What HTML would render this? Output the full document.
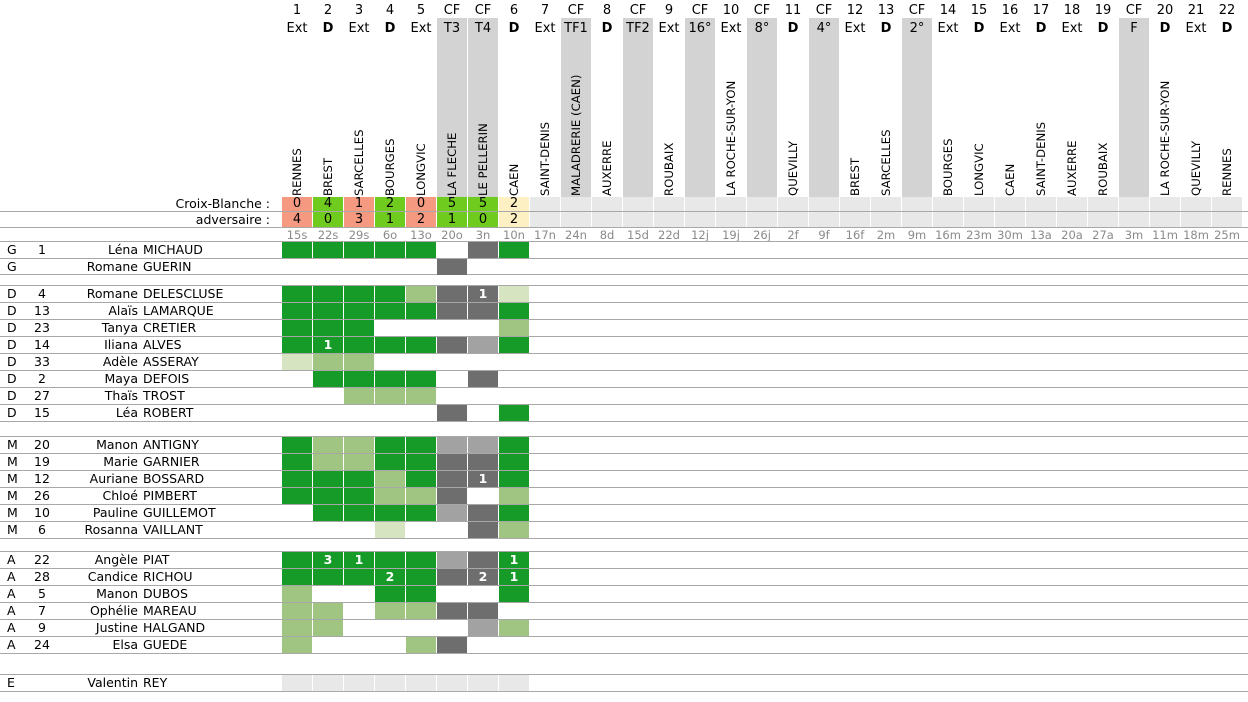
<!DOCTYPE html>
<html><head><meta charset="utf-8">
<style>
body{margin:0;width:1248px;height:702px;background:#fff;position:relative;overflow:hidden;font-family:"DejaVu Sans","Liberation Sans",sans-serif;font-size:11px;color:#000}
div{position:absolute;box-sizing:border-box}
.c{text-align:center}
.ln{left:0;width:1248px;height:1px;background:#a8a8a8}
.v{transform-origin:0 0;transform:rotate(-90deg);white-space:nowrap;font-size:11.7px}
.n{color:#fff;font-weight:bold;text-align:center;font-size:12.5px}
</style></head><body>
<script>
var X=function(i){return 282+31*i};
var nums="1,2,3,4,5,CF,CF,6,7,CF,8,CF,9,CF,10,CF,11,CF,12,13,CF,14,15,16,17,18,19,CF,20,21,22".split(",");
var sec="Ext,D,Ext,D,Ext,T3,T4,D,Ext,TF1,D,TF2,Ext,16°,Ext,8°,D,4°,Ext,D,2°,Ext,D,Ext,D,Ext,D,F,D,Ext,D".split(",");
var ven="RENNES,BREST,SARCELLES,BOURGES,LONGVIC,LA FLECHE,LE PELLERIN,CAEN,SAINT-DENIS,MALADRERIE (CAEN),AUXERRE,,ROUBAIX,,LA ROCHE-SUR-YON,,QUEVILLY,,BREST,SARCELLES,,BOURGES,LONGVIC,CAEN,SAINT-DENIS,AUXERRE,ROUBAIX,,LA ROCHE-SUR-YON,QUEVILLY,RENNES".split(",");
var dates="15s 22s 29s 6o 13o 20o 3n 10n 17n 24n 8d 15d 22d 12j 19j 26j 2f 9f 16f 2m 9m 16m 23m 30m 13a 20a 27a 3m 11m 18m 25m".split(" ");
var h="";
function d(s,st,t){h+='<div class="'+s+'" style="'+st+'">'+(t===undefined?"":String(t))+'</div>';}
for(var i=0;i<31;i++){
 var x=X(i);
 if(nums[i]=="CF")d("","left:"+x+"px;top:18px;width:30px;height:179px;background:#d3d3d3");
 d("c","left:"+x+"px;top:3px;width:30px;font-size:13px",nums[i]);
 d("c","left:"+x+"px;top:21px;width:30px;font-size:13px;"+(sec[i]=="D"?"font-weight:bold":""),sec[i]);
 if(ven[i])d("v","left:"+(x+8)+"px;top:196px",ven[i]);
 d("c","left:"+x+"px;top:228px;width:30px;color:#8a8a8a;font-size:11.5px",dates[i]);
}
var s1=[0,4,1,2,0,5,5,2],s2=[4,0,3,1,2,1,0,2],sc=["#f59a80","#6fcc1f","#f59a80","#6fcc1f","#f59a80","#6fcc1f","#6fcc1f","#fdf0c2"];
for(var i=0;i<31;i++){
 var x=X(i),bg=i<8?sc[i]:"#e8e8e8";
 d(i<8?"c":"","left:"+x+"px;top:197px;width:30px;height:14px;background:"+bg+";font-size:13px;line-height:14px",i<8?s1[i]:"");
 d(i<8?"c":"","left:"+x+"px;top:212px;width:30px;height:15px;background:"+bg+";font-size:13px;line-height:15px",i<8?s2[i]:"");
}
d("","left:0;top:197px;width:270px;text-align:right;font-size:12.5px;line-height:14px","Croix-Blanche :");
d("","left:0;top:212px;width:270px;text-align:right;font-size:12.5px;line-height:15px","adversaire :");
[211,227,241].forEach(function(y){d("ln","top:"+y+"px")});
var C={G:"#169a28",L:"#a0c582",V:"#d7e4c1",D:"#6e6e6e",M:"#a2a2a2",E:"#e8e8e8"};
var rows=[
[241,"G","1","Léna","MICHAUD","GGGGG.DG"],
[258,"G","","Romane","GUERIN",".....D.."],
[285,"D","4","Romane","DELESCLUSE","GGGGLD1V",{6:"D"}],
[302,"D","13","Alaïs","LAMARQUE","GGGGGDDG"],
[319,"D","23","Tanya","CRETIER","GGG....L"],
[336,"D","14","Iliana","ALVES","G1GGGDMG",{1:"G"}],
[353,"D","33","Adèle","ASSERAY","VLL....."],
[370,"D","2","Maya","DEFOIS",".GGGG.D."],
[387,"D","27","Thaïs","TROST","..LLL..."],
[404,"D","15","Léa","ROBERT",".....D.G"],
[436,"M","20","Manon","ANTIGNY","GLLGGMMG"],
[453,"M","19","Marie","GARNIER","GLLGGDDG"],
[470,"M","12","Auriane","BOSSARD","GGGLGD1G",{6:"D"}],
[487,"M","26","Chloé","PIMBERT","GGGLLD.L"],
[504,"M","10","Pauline","GUILLEMOT",".GGGGMDG"],
[521,"M","6","Rosanna","VAILLANT","...V..DL"],
[551,"A","22","Angèle","PIAT","G31GGMD1",{1:"G",2:"G",7:"G"}],
[568,"A","28","Candice","RICHOU","GGG2GD21",{3:"G",6:"D",7:"G"}],
[585,"A","5","Manon","DUBOS","L..GG..G"],
[602,"A","7","Ophélie","MAREAU","LL.LLDD."],
[619,"A","9","Justine","HALGAND","LL....ML"],
[636,"A","24","Elsa","GUEDE","L...LD.."],
[674,"E","","Valentin","REY","EEEEEEEE"]];
[274,421,538,653,691].forEach(function(y){d("ln","top:"+y+"px")});
rows.forEach(function(r){
 var y=r[0];d("ln","top:"+y+"px");
 d("","left:7px;top:"+(y+1)+"px;font-size:12.5px",r[1]);
 d("c","left:27px;top:"+(y+1)+"px;width:30px;font-size:12.5px",r[2]);
 d("","left:0;top:"+(y+1)+"px;width:138px;text-align:right;font-size:12.5px",r[3]);
 d("","left:143px;top:"+(y+1)+"px;font-size:12.5px",r[4]);
 for(var i=0;i<8;i++){var ch=r[5][i];if(ch==".")continue;
  var col=C[ch],t="";if(/\d/.test(ch)){col=C[r[6][i]];t=ch;}
  d(t?"n":"","left:"+X(i)+"px;top:"+(y+1)+"px;width:30px;height:16px;line-height:16px;background:"+col,t);}
});
document.write(h);
</script>
</body></html>
